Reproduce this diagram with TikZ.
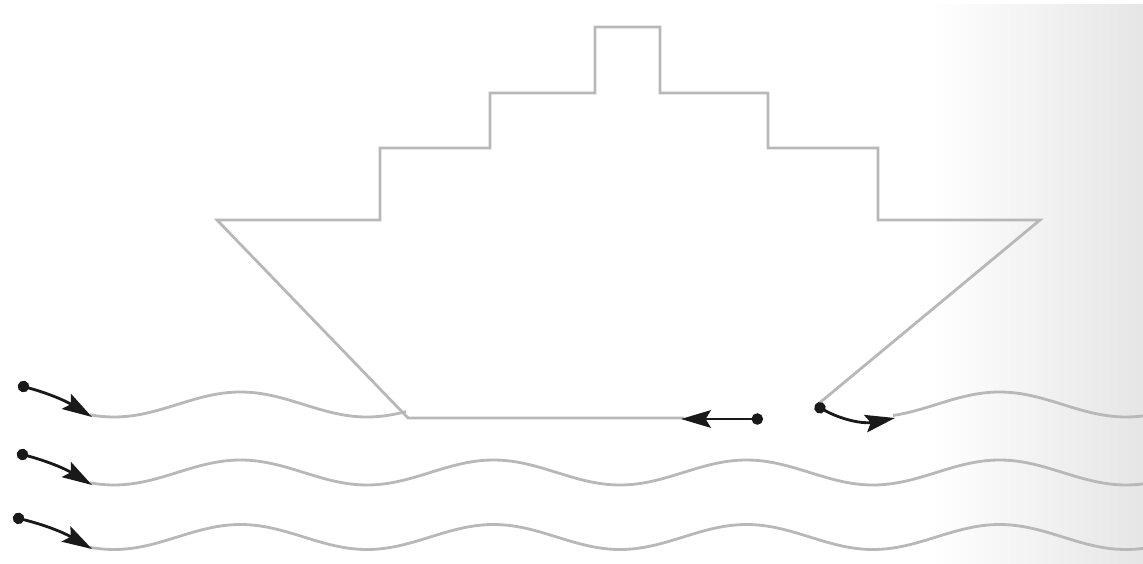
\documentclass[tikz,border=0pt]{standalone}
\usetikzlibrary{arrows.meta}
\tikzset{
  trait/.style={draw=black!28, line width=1.6pt, line join=miter},
  fleche/.style={draw=black!90, line width=1.6pt, {Circle[length=6.5pt]}-{Stealth[length=17pt,width=10pt,inset=3pt]}},
}
\begin{document}
\begin{tikzpicture}[x=0.02cm, y=-0.02cm]
\useasboundingbox (0,0) rectangle (1143,564);
\shade[left color=white, right color=black!10] (930,5) rectangle (1143,564); % fond à droite
% le bateau
\draw[trait] (684,418) -- (408,418) -- (217,220) -- (380,220) -- (380,148) -- (490,148) -- (490,93)
  -- (595,93) -- (595,27) -- (660,27) -- (660,93) -- (768,93) -- (768,148) -- (878,148) -- (878,220)
  -- (1040,220) -- (817,405);
% les vagues
\draw[trait] plot[domain=90:406, samples=80] (\x, {404.5+12.5*cos((\x-114)/253*360)}); % vague 1, gauche
\draw[trait] plot[domain=893:1143, samples=70] (\x, {404.5+12.5*cos((\x-114)/253*360)}); % vague 1, droite
\draw[trait] plot[domain=90:1143, samples=250] (\x, {472.5+12.5*cos((\x-114)/253*360)}); % vague 2
\draw[trait] plot[domain=90:1143, samples=250] (\x, {537+12.5*cos((\x-114)/253*360)}); % vague 3
% points de départ et pointes des flèches
\coordinate (d1) at (18,385);  \coordinate (p1) at (92,417);
\coordinate (d2) at (17,453);  \coordinate (p2) at (92,485);
\coordinate (d3) at (13,517);  \coordinate (p3) at (92,549);
\coordinate (dc) at (763,419); \coordinate (pc) at (681,419);
\coordinate (dr) at (815,405); \coordinate (pr) at (895,418);
\draw[fleche] (d1) to[bend left=8] (p1);
\draw[fleche] (d2) to[bend left=8] (p2);
\draw[fleche] (d3) to[bend left=8] (p3);
\draw[fleche] (dc) -- (pc); % sous la coque
\draw[fleche] (dr) to[bend right=20] (pr); % à l’avant
\end{tikzpicture}
\end{document}
